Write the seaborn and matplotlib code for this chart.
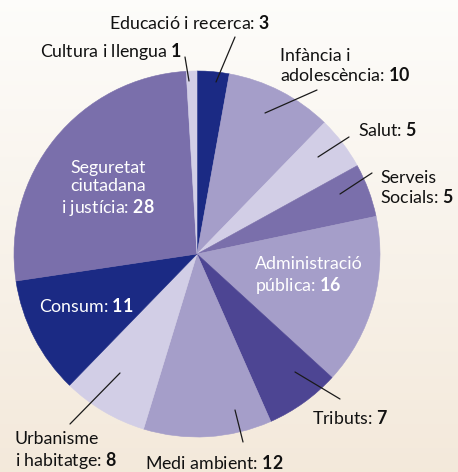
#!/usr/bin/env python3
"""Pastís: àmbits de les queixes (recreació amb seaborn/matplotlib)."""

import matplotlib
matplotlib.use("Agg")
import matplotlib.pyplot as plt
import numpy as np
import seaborn as sns

# --------------------------------------------------------------------------- #
# Dades (ordre horari des de dalt)
# --------------------------------------------------------------------------- #
categories = [
    "Educació i recerca", "Infància i adolescència", "Salut", "Serveis Socials",
    "Administració pública", "Tributs", "Medi ambient", "Urbanisme i habitatge",
    "Consum", "Seguretat ciutadana i justícia", "Cultura i llengua",
]
values = [3, 10, 5, 5, 16, 7, 12, 8, 11, 28, 1]

NAVY = "#1b2a84"
MID = "#7a6fab"
LIGHT = "#a59ec9"
PALE = "#d2cee6"
DEEP = "#4d4593"
colors = [NAVY, LIGHT, PALE, MID, LIGHT, DEEP, LIGHT, PALE, NAVY, MID, PALE]

# etiquetes: text amb el valor en negreta
label_text = [
    "Educació i recerca: $\\mathbf{3}$",
    "Infància i\nadolescència: $\\mathbf{10}$",
    "Salut: $\\mathbf{5}$",
    "Serveis\nSocials: $\\mathbf{5}$",
    "Administració\npública: $\\mathbf{16}$",
    "Tributs: $\\mathbf{7}$",
    "Medi ambient: $\\mathbf{12}$",
    "Urbanisme\ni habitatge: $\\mathbf{8}$",
    "Consum: $\\mathbf{11}$",
    "Seguretat\nciutadana\ni justícia: $\\mathbf{28}$",
    "Cultura i llengua $\\mathbf{1}$",
]

W, H = 458, 472
CX, CY, R = 197, 254, 183

# posició de cada etiqueta (x, y, ha, color) en píxels de la imatge
label_pos = [
    (109, 23, "left", "#111111"),
    (280, 66, "left", "#111111"),
    (358, 130, "left", "#111111"),
    (380, 188, "left", "#111111"),
    (255, 276, "left", "white"),
    (312, 418, "left", "#111111"),
    (145, 463, "left", "#111111"),
    (15, 451, "left", "#111111"),
    (39, 306, "left", "white"),
    (108, 189, "center", "white"),
    (40, 51, "left", "#111111"),
]

# línies guia (x0, y0, x1, y1) en píxels
leaders = [
    (235, 37, 216, 82),
    (185, 57, 189, 81),
    (317, 90, 265, 113),
    (349, 137, 318, 157),
    (372, 173, 340, 194),
    (340, 399, 295, 372),
    (243, 442, 235, 410),
    (70, 424, 120, 373),
]


def main():
    sns.set_theme(style="white")
    plt.rcParams["font.family"] = ["Lato", "DejaVu Sans"]
    plt.rcParams["mathtext.fontset"] = "custom"
    plt.rcParams["mathtext.rm"] = "Lato"
    plt.rcParams["mathtext.bf"] = "Lato:bold"

    fig = plt.figure(figsize=(W / 100, H / 100), dpi=100)
    ax = fig.add_axes([0, 0, 1, 1])

    # fons degradat crema
    top = np.array([0.993, 0.990, 0.982])
    bot = np.array([0.955, 0.914, 0.858])
    t = np.linspace(0, 1, 256)[:, None, None]
    grad = top * (1 - t) + bot * t
    grad = np.repeat(grad, 2, axis=1)
    ax.imshow(grad, extent=(0, W, 0, H), aspect="auto", origin="upper", zorder=0)

    ax.pie(values, colors=colors, startangle=90, counterclock=False,
           center=(CX, H - CY), radius=R, frame=True,
           wedgeprops={"linewidth": 0.4, "zorder": 1})
    for w, c in zip(ax.patches, colors):
        w.set_edgecolor(c)

    for (x0, y0, x1, y1) in leaders:
        ax.plot([x0, x1], [H - y0, H - y1], color="#1a1a1a", lw=0.9, zorder=3)

    for txt, (x, y, ha, col) in zip(label_text, label_pos):
        ax.text(x, H - y, txt, ha=ha, va="center", color=col, fontsize=12.8,
                linespacing=1.18, multialignment=ha, zorder=4)

    ax.set_xlim(0, W)
    ax.set_ylim(0, H)
    ax.set_axis_off()
    fig.savefig("out.png", dpi=100)
    plt.close(fig)


if __name__ == "__main__":
    main()
